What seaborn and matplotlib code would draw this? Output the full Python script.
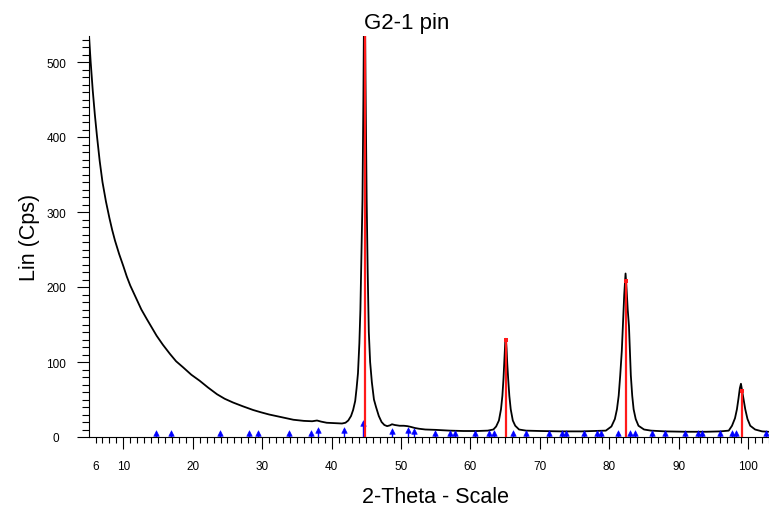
import matplotlib
matplotlib.use("Agg")
import matplotlib.pyplot as plt
import seaborn as sns
import pandas as pd
from matplotlib.ticker import MultipleLocator, FixedLocator

# ---- data ----
two_theta = [5.06, 5.3, 5.6, 5.9, 6.2, 6.6, 7.0, 7.5, 8.0, 8.4, 8.8, 9.4, 10.0, 10.5, 11.0,
             11.9, 12.6, 13.4, 14.1, 14.8, 15.7, 16.7, 17.6, 18.6, 19.8, 21.0, 22.2, 23.5,
             24.6, 25.8, 27.2, 28.7, 29.8, 31.0, 32.5, 34.5, 36.0, 37.2, 37.9, 38.5, 39.3,
             40.5, 41.5, 42.0, 42.4, 42.8, 43.1, 43.4, 43.6, 43.8, 44.0, 44.15, 44.3, 44.45,
             44.58, 44.68, 44.78, 44.88, 45.05, 45.2, 45.36, 45.55, 45.8, 46.1, 46.4, 46.8,
             47.2, 47.6, 48.0, 48.4, 48.7, 49.1, 49.8, 50.4, 50.9, 51.4, 52.0, 52.6, 53.5,
             55.0, 57.0, 59.0, 61.0, 62.5, 63.3, 63.7, 64.1, 64.4, 64.6, 64.76, 64.9, 65.02,
             65.1, 65.2, 65.3, 65.43, 65.6, 65.8, 66.1, 66.45, 67.0, 68.0, 70.0, 73.0, 76.0,
             78.0, 79.5, 80.3, 80.8, 81.1, 81.35, 81.57, 81.8, 81.96, 82.15, 82.34, 82.5,
             82.65, 82.83, 82.97, 83.1, 83.3, 83.5, 83.8, 84.2, 85.0, 86.0, 88.0, 91.0, 94.0,
             96.0, 97.2, 97.67, 98.1, 98.38, 98.6, 98.8, 98.96, 99.12, 99.33, 99.58, 99.9,
             100.3, 101.0, 102.0, 102.9]
counts = [535, 500, 462, 430, 402, 368, 340, 314, 292, 276, 262, 244, 228, 214, 202,
          184, 170, 157, 146, 135, 123, 111, 101, 93, 83, 75, 66, 57,
          51, 46, 41, 36, 33, 30, 27, 23, 21.5, 21, 22, 20.5, 19,
          18.5, 18, 19, 22, 28, 36, 48, 65, 85, 125, 170, 240, 317,
          450, 580, 600, 480, 317, 220, 140, 100, 73, 50, 40, 28,
          20, 16, 14.5, 15.5, 17, 16, 15, 15, 14.5, 13.5, 12, 11, 10,
          9.5, 8.5, 8, 8, 8.5, 10, 14, 22, 37, 55, 78, 105, 128,
          131, 118, 98, 78, 55, 37, 22, 15, 10, 8.5, 8, 7.5, 7.5,
          8, 8.5, 14, 24, 37, 55, 82, 115, 148, 190, 218, 195,
          170, 148, 115, 82, 55, 37, 24, 15, 10, 8.5, 7.5, 7, 7,
          7.5, 8.5, 15, 25, 37, 51, 65, 71, 62, 51, 37, 24,
          15, 10, 7.5, 7]

ref_pos = [14.67, 16.87, 23.93, 28.07, 29.36, 33.92, 37.09, 38.1, 41.85, 44.5, 48.67,
           51.07, 51.89, 54.9, 57.07, 57.8, 60.68, 62.7, 63.4, 66.1, 68.0, 71.3, 73.17,
           73.8, 76.3, 78.2, 78.8, 81.3, 83.0, 83.7, 86.1, 87.95, 90.9, 92.77, 93.4, 95.9,
           97.66, 98.3, 102.6]
ref_tip = [7.5, 7.5, 7.5, 7.5, 7.5, 7.5, 7.5, 11.5, 11.7, 21, 11,
           11.5, 10.5, 7.5, 7.5, 7.5, 7.5, 7.5, 7.5, 7.5, 7.5, 7.5, 7.5,
           7.5, 7.5, 7.5, 7.5, 7.5, 7.5, 7.5, 7.5, 7.5, 7.5, 7.5, 7.5, 7.5,
           7.5, 7.5, 7.5]

peak_pos = [44.83, 65.12, 82.45, 99.05]
peak_int = [600, 130, 208, 61]

xtick_vals = [6, 10, 20, 30, 40, 50, 60, 70, 80, 90, 100]
ytick_vals = [0, 100, 200, 300, 400, 500]

title_text = "G2-1 pin"
xlabel_text = "2-Theta - Scale"
ylabel_text = "Lin (Cps)"

# ---- style ----
sns.set_theme(style="ticks")
plt.rcParams['font.family'] = ['Liberation Sans', 'DejaVu Sans']

W, H = 769, 510
fig = plt.figure(figsize=(W / 100, H / 100), dpi=100)
ax = fig.add_axes([89 / W, 72 / H, 680 / W, 401.25 / H])

scan = pd.DataFrame({"two_theta": two_theta, "counts": counts})
sns.lineplot(data=scan, x="two_theta", y="counts", ax=ax, color="black",
             linewidth=1.3, sort=False, estimator=None, zorder=2)

# reference (blue) sticks with arrow heads
ax.vlines(ref_pos, 0, [t - 2.5 for t in ref_tip], color="#0000ff", linewidth=1.0, zorder=3)
ref = pd.DataFrame({"pos": ref_pos, "y": [t - 2.6 for t in ref_tip]})
sns.scatterplot(data=ref, x="pos", y="y", marker="^", color="#0000ff", s=16,
                edgecolor="#0000ff", linewidth=0.4, ax=ax, zorder=4)

# red peak sticks
ax.vlines(peak_pos, 0, peak_int, color="#ff1a1a", linewidth=1.6, zorder=5)
pk = pd.DataFrame({"pos": peak_pos, "y": peak_int})
sns.scatterplot(data=pk, x="pos", y="y", marker="s", color="#ff1a1a", s=12,
                linewidth=0, ax=ax, zorder=6)

ax.set_xlim(5.06, 103.0)
ax.set_ylim(0, 535)

sns.despine(ax=ax)
for sp in ("left", "bottom"):
    ax.spines[sp].set_color("black")
    ax.spines[sp].set_linewidth(0.8)

ax.xaxis.set_major_locator(FixedLocator(xtick_vals))
ax.xaxis.set_minor_locator(MultipleLocator(1))
ax.yaxis.set_major_locator(FixedLocator(ytick_vals))
ax.yaxis.set_minor_locator(MultipleLocator(10))
ax.set_xticklabels([str(v) for v in xtick_vals])
ax.set_yticklabels([str(v) for v in ytick_vals])

ax.tick_params(axis="x", which="major", direction="out", length=8.4, width=0.8,
               color="black", pad=8.5, labelsize=8.5, labelcolor="black")
ax.tick_params(axis="x", which="minor", direction="out", length=4.3, width=0.8, color="black")
ax.tick_params(axis="y", which="major", direction="out", length=8.6, width=0.8,
               color="black", pad=15, labelsize=8.5, labelcolor="black")
ax.tick_params(axis="y", which="minor", direction="out", length=5.0, width=0.8, color="black")
for lab in ax.get_yticklabels():
    lab.set_horizontalalignment("center")

# the "6" label sits on a short (minor-length) tick
first = ax.xaxis.get_major_ticks()[0]
first.tick1line.set_markersize(4.3)

ax.set_xlabel(xlabel_text, fontsize=15.5, color="black")
ax.xaxis.set_label_coords(0.510, -0.1495)
ax.xaxis.label.set_verticalalignment("center")
ax.set_ylabel(ylabel_text, fontsize=15.5, color="black")
ax.yaxis.set_label_coords(-0.0868, 0.5)
ax.yaxis.label.set_verticalalignment("center")

fig.text(406.5 / W, 1 - 28.5 / H, title_text, ha="center", va="baseline",
         fontsize=16, color="black")

fig.savefig("out.png", dpi=100)
